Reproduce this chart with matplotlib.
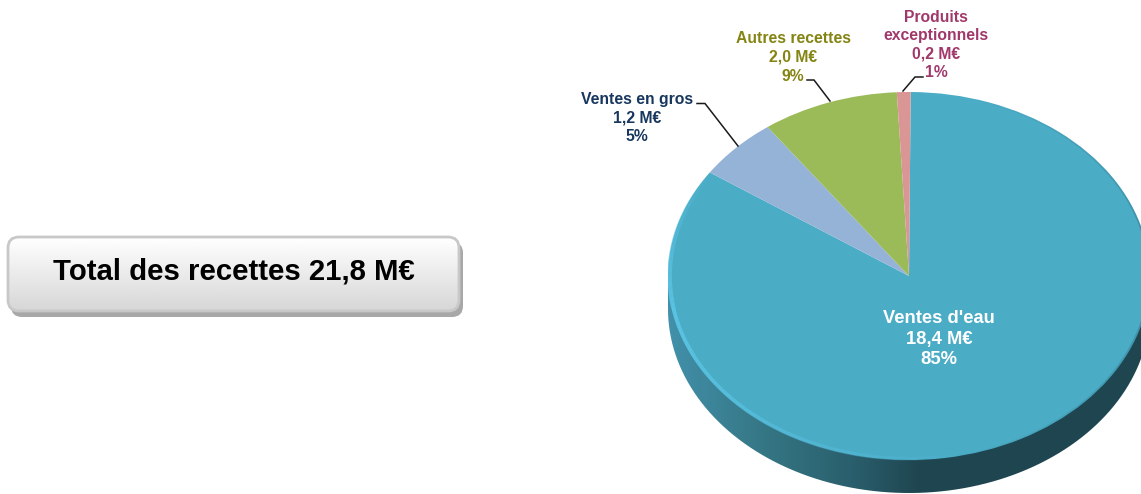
import matplotlib
matplotlib.use('Agg')
import matplotlib.pyplot as plt
import numpy as np
from matplotlib.collections import LineCollection
from matplotlib.colors import LinearSegmentedColormap
from matplotlib.patches import FancyBboxPatch, PathPatch
from matplotlib.path import Path

plt.rcParams['font.family'] = ['Liberation Sans', 'DejaVu Sans']

# Data
categories = ["Ventes d'eau", "Ventes en gros", "Autres recettes", "Produits\nexceptionnels"]
values = [18.4, 1.2, 2.0, 0.2]
percents = [85, 5, 9, 1]
total_label = "Total des recettes 21,8 M€"

colors = ['#4BACC6', '#95B3D7', '#9BBB59', '#D99694']
text_colors = ['white', '#17375E', '#848412', '#A0386B']

W, H = 1141, 494
fig = plt.figure(figsize=(W / 100, H / 100), dpi=100, facecolor='white')

# Pie axes, stretched to give the tilted look. Geometry in pixels of the figure
cx, cy, rx, ry, depth = 909, 276, 241, 184, 33
d = depth / ry
ax = fig.add_axes([(cx - rx) / W, 1 - (cy + ry + depth) / H, 2 * rx / W, (2 * ry + depth) / H])

wedges, _ = ax.pie(values, colors=colors, startangle=89.6, counterclock=False, radius=1)
ax.set_aspect('auto')
ax.set_xlim(-1, 1)
ax.set_ylim(-1 - d, 1)

# Side of the disc, gradient clipped to the visible band
th = np.radians(np.linspace(180, 360, 200))
xs = np.r_[np.cos(th), np.cos(th[::-1])]
ys = np.r_[np.sin(th) + 0.02, np.sin(th[::-1]) - d]
side_path = Path(np.c_[xs, ys])
side_cmap = LinearSegmentedColormap.from_list(
    'side', [(0, '#4290AA'), (0.2, '#357684'), (0.38, '#2A5F6D'), (0.52, '#1F4650'), (1, '#1F4650')])
img = ax.imshow(np.linspace(0, 1, 400)[None, :], extent=(-1, 1, -1 - d, 1), cmap=side_cmap,
                aspect='auto', zorder=0.5)
img.set_clip_path(PathPatch(side_path, transform=ax.transData))
ax.set_xlim(-1, 1)
ax.set_ylim(-1 - d, 1)

# Bevel on the rim of the large slice: light on the left, dark on the right
def rim(start, end, color, fade_from_start, width, strength=1.0, r=0.993):
    t = np.radians(np.linspace(start, end, 160))
    pts = np.c_[r * np.cos(t), r * np.sin(t)]
    segs = np.stack([pts[:-1], pts[1:]], axis=1)
    a = np.linspace(1, 0, len(segs)) if fade_from_start else np.linspace(0, 1, len(segs))
    rgba = np.tile(matplotlib.colors.to_rgba(color), (len(segs), 1))
    rgba[:, 3] = a * strength
    ax.add_collection(LineCollection(segs, colors=rgba, linewidths=width, zorder=3, capstyle='butt'))

rim(146, 190, '#5CC6E6', False, 3.2)
rim(190, 285, '#5CC6E6', True, 2.8)
rim(280, 360, '#2A6478', False, 1.2, 0.45, 0.996)
rim(0, 75, '#2A6478', True, 1.2, 0.45, 0.996)

# Overlay in pixel coordinates for the button, labels and leader lines
ov = fig.add_axes([0, 0, 1, 1], facecolor='none', zorder=5)
ov.set_xlim(0, W)
ov.set_ylim(H, 0)
ov.axis('off')

box = dict(boxstyle='round,pad=0,rounding_size=11')
ov.add_patch(FancyBboxPatch((11, 242), 452, 75, fc='#A8A8A8', ec='none', **box))
button = FancyBboxPatch((8, 237), 451, 74, fc='none', ec='#C8C8C8', lw=2, zorder=3, **box)
ov.add_patch(button)
grad = ov.imshow(np.linspace(1, 0.84, 100)[:, None], extent=(8, 459, 311, 237), cmap='gray',
                 vmin=0, vmax=1, aspect='auto', zorder=2)
grad.set_clip_path(FancyBboxPatch((8, 237), 451, 74, transform=ov.transData, **box))
ov.set_xlim(0, W)
ov.set_ylim(H, 0)
ov.text(233.5, 271, total_label, ha='center', va='center', fontsize=21.2, fontweight='bold',
        color='black', zorder=4)

labels = [f"{c}\n{str(v).replace('.', ',')} M€\n{p}%" for c, v, p in zip(categories, values, percents)]
label_pos = [(939, 339), (637, 118), (793, 57.5), (936, 45)]
label_size = [13.2, 11.3, 11.3, 11.3]
label_spacing = [1.3, 1.32, 1.32, 1.27]
for lab, pos, tc, fs, ls in zip(labels, label_pos, text_colors, label_size, label_spacing):
    ov.text(pos[0], pos[1], lab, ha='center', va='center', color=tc, fontsize=fs,
            fontweight='bold', linespacing=ls, zorder=6)

leaders = [[(697, 103.5), (705, 103.5), (738, 146)],
           [(807, 80), (814, 80), (830, 101)],
           [(923, 77), (915, 77), (903, 91)]]
for line in leaders:
    ov.plot(*zip(*line), color='#1a1a1a', lw=1.1, solid_joinstyle='miter')

fig.savefig('out.png', dpi=100)
